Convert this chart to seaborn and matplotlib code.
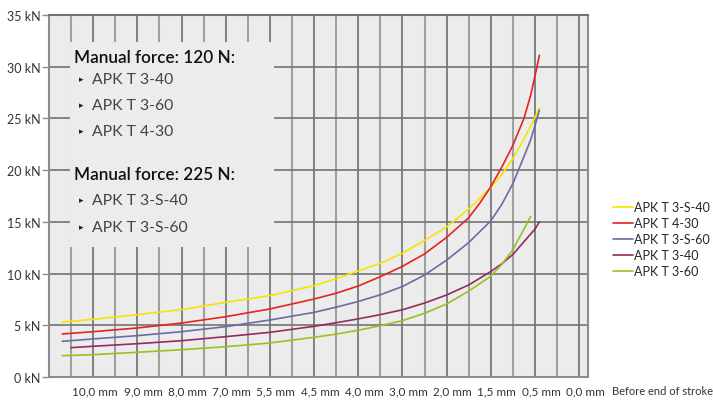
import pandas as pd
import matplotlib
matplotlib.use("Agg")
import matplotlib.pyplot as plt
import matplotlib.transforms as mtransforms
from matplotlib.patches import Rectangle
import seaborn as sns

# x axis: position on the stroke grid (one column per grid step, label every 2nd column)
tick_pos = [2, 4, 6, 8, 10, 12, 14, 16, 18, 20, 22, 24]
tick_labels = ["10,0 mm", "9,0 mm", "8,0 mm", "7,0 mm", "5,5 mm", "4,5 mm",
               "4,0 mm", "3,0 mm", "2,0 mm", "1,5 mm", "0,5 mm", "0,0 mm"]
y_ticks = [0, 5, 10, 15, 20, 25, 30, 35]
y_labels = ["0 kN", "5 kN", "10 kN", "15 kN", "20 kN", "25 kN", "30 kN", "35 kN"]

# (force in kN)
x_s40 = [0.6, 2, 4, 6, 8, 10, 12, 13, 14, 15, 16, 17, 18, 19, 20, 20.5, 21, 21.5, 22, 22.2]
f_s40 = [5.3, 5.58, 6.03, 6.51, 7.22, 7.87, 8.83, 9.5, 10.25, 11.0, 11.96, 13.2, 14.5,
         16.25, 18.3, 19.6, 21.1, 23.0, 25.1, 26.0]

x_430 = [0.6, 2, 4, 6, 8, 10, 12, 13, 14, 15, 16, 17, 18, 19, 19.5, 20, 20.5, 21, 21.5,
         21.8, 22, 22.2]
f_430 = [4.16, 4.38, 4.74, 5.22, 5.83, 6.58, 7.54, 8.1, 8.8, 9.7, 10.7, 11.9, 13.5, 15.4,
         16.8, 18.4, 20.3, 22.4, 25.0, 27.2, 29.1, 31.1]

x_s60 = [0.6, 2, 4, 6, 8, 10, 12, 13, 14, 15, 16, 17, 18, 19, 20, 20.5, 21, 21.5, 21.8,
         22, 22.2]
f_s60 = [3.45, 3.68, 4.0, 4.38, 4.87, 5.51, 6.25, 6.75, 7.3, 7.95, 8.75, 9.86, 11.3, 13.0,
         15.1, 16.7, 18.7, 21.3, 22.9, 24.3, 25.8]

x_340 = [1, 2, 4, 6, 8, 10, 12, 13, 14, 15, 16, 17, 18, 19, 20, 20.5, 21, 22, 22.2]
f_340 = [2.84, 2.97, 3.22, 3.51, 3.9, 4.32, 4.9, 5.25, 5.62, 6.03, 6.5, 7.15, 7.93, 8.9,
         10.2, 10.95, 11.85, 14.3, 15.0]

x_360 = [0.6, 2, 4, 6, 8, 10, 12, 13, 14, 15, 16, 17, 18, 19, 20, 20.5, 21, 21.8]
f_360 = [2.06, 2.16, 2.39, 2.64, 2.93, 3.29, 3.84, 4.15, 4.52, 4.96, 5.45, 6.16, 7.06, 8.3,
         9.75, 10.9, 12.3, 15.5]

models = ["APK T 3-S-40", "APK T 4-30", "APK T 3-S-60", "APK T 3-40", "APK T 3-60"]
colors = ["#f7e400", "#e52421", "#6b6ba6", "#962a61", "#97c21f"]

frames = []
for name, xs, fs in zip(models, [x_s40, x_430, x_s60, x_340, x_360],
                        [f_s40, f_430, f_s60, f_340, f_360]):
    frames.append(pd.DataFrame({"pos": xs, "force": fs, "model": name}))
df = pd.concat(frames, ignore_index=True)

sns.set_theme(style="white")
plt.rcParams["font.family"] = ["Lato", "DejaVu Sans"]

fig = plt.figure(figsize=(7.13, 4.02), dpi=100)
ax = fig.add_axes([49 / 713, 1 - 378 / 402, 539 / 713, 362 / 402])
ax.set_facecolor("#ececec")

sns.lineplot(data=df, x="pos", y="force", hue="model", hue_order=models,
             palette=dict(zip(models, colors)), sort=False, estimator=None,
             linewidth=1.2, ax=ax, zorder=5)

ax.set_xlim(0, 24.4)
ax.set_ylim(0, 35)
ax.set_xlabel("")
ax.set_ylabel("")

ax.set_xticks(tick_pos)
ax.set_xticklabels(tick_labels)
ax.set_yticks(y_ticks)
ax.set_yticklabels(y_labels)

# grid: darker lines at labelled columns, lighter in between
for p in tick_pos:
    ax.axvline(p, color="#6e6e6e", lw=1.2, zorder=1)
    ax.axvline(p - 1, color="#a0a0a0", lw=1.5, zorder=1)
for y in y_ticks[1:]:
    ax.axhline(y, color="#737373", lw=1.2, zorder=1)

for s in ax.spines.values():
    s.set_color("#8c8c8c")
    s.set_linewidth(1.5)
ax.spines["top"].set_color("#737373")

ax.tick_params(axis="y", which="major", length=5, width=1, color="#8c8c8c",
               pad=1, labelsize=9, labelcolor="#333333", left=True)
ax.tick_params(axis="x", which="both", length=0, pad=6, labelsize=8.5,
               labelcolor="#333333")
for i, lab in enumerate(ax.get_xticklabels()):
    dx = 2 if i == 0 else 6
    shift = mtransforms.ScaledTranslation(dx / 100, 0, fig.dpi_scale_trans)
    lab.set_transform(lab.get_transform() + shift)

# info box over the grid
ax.add_patch(Rectangle((0.95, 12.57), 9.24, 19.83, facecolor="#ececec",
                       edgecolor="none", zorder=2))


def px(x, y):
    return x / 713, 1 - y / 402


fig.text(*px(74, 58), "Manual force: 120 N:", fontsize=12.3, fontweight="semibold",
         color="#111111", va="center")
fig.text(*px(74, 175), "Manual force: 225 N:", fontsize=12.3, fontweight="semibold",
         color="#111111", va="center")
for y, t in [(80, "APK T 3-40"), (106, "APK T 3-60"), (132, "APK T 4-30"),
             (201, "APK T 3-S-40"), (228, "APK T 3-S-60")]:
    fig.text(*px(79, y), "\u25b8", fontsize=6.5, color="#222222", va="center")
    fig.text(*px(92, y), t, fontsize=11.3, color="#444444", va="center")

handles, labels = ax.get_legend_handles_labels()
ax.legend(handles, labels, loc="upper left", bbox_to_anchor=px(613, 202),
          bbox_transform=fig.transFigure, frameon=False, fontsize=9,
          handlelength=1.6, handletextpad=0.1, labelspacing=0.32,
          borderaxespad=0, borderpad=0)

fig.text(*px(612, 392), "Before end of stroke", fontsize=8, color="#333333",
         va="center")

plt.savefig("out.png", dpi=100)
